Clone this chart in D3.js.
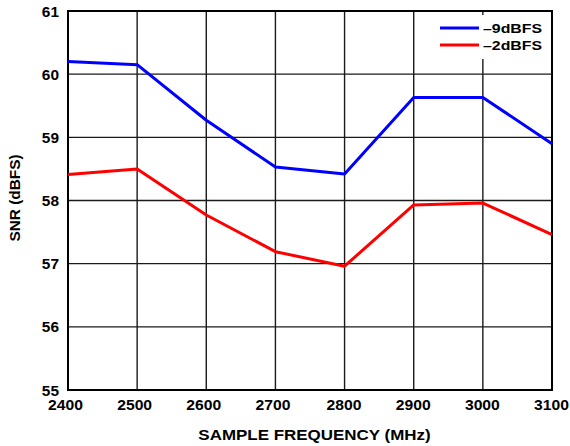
<!DOCTYPE html>
<html>
<head>
<meta charset="utf-8">
<script src="https://cdn.jsdelivr.net/npm/d3@7"></script>
<style>
  body { margin: 0; background: #fff; }
  text { font-family: "Liberation Sans", Arial, sans-serif; font-weight: bold; fill: #000; }
</style>
</head>
<body>
<svg id="chart" width="570" height="446"></svg>
<script>
var freqs = [2400, 2500, 2600, 2700, 2800, 2900, 3000, 3100];
var snrMinus9 = [60.2, 60.15, 59.27, 58.53, 58.42, 59.63, 59.63, 58.9];
var snrMinus2 = [58.41, 58.5, 57.77, 57.19, 56.96, 57.93, 57.96, 57.46];
var xTicks = [2400, 2500, 2600, 2700, 2800, 2900, 3000, 3100];
var yTicks = [55, 56, 57, 58, 59, 60, 61];
var seriesNames = ["\u20139dBFS", "\u20132dBFS"];
var seriesColors = ["#0000ff", "#ff0000"];

var m = {left: 68, right: 552, top: 11, bottom: 390};
var svg = d3.select("#chart");

var x = d3.scaleLinear().domain([2400, 3100]).range([m.left, m.right]);
var y = d3.scaleLinear().domain([55, 61]).range([m.bottom, m.top]);

// the original type is a bit wider than arial, so stretch it
function stretch(sel, k) {
  sel.each(function() {
    var w = this.getComputedTextLength();
    d3.select(this).attr("textLength", w * k).attr("lengthAdjust", "spacingAndGlyphs");
  });
}

// grid
var grid = svg.append("g");
grid.selectAll("line.v").data(xTicks).enter().append("line")
  .attr("x1", d => x(d)).attr("x2", d => x(d))
  .attr("y1", m.top).attr("y2", m.bottom)
  .attr("stroke", "#1a1a1a").attr("stroke-width", 1.4);
grid.selectAll("line.h").data(yTicks).enter().append("line")
  .attr("y1", d => y(d)).attr("y2", d => y(d))
  .attr("x1", m.left).attr("x2", m.right)
  .attr("stroke", "#1a1a1a").attr("stroke-width", 1.4);

// legend box hides grid behind it
svg.append("rect").attr("x", 436).attr("y", 15).attr("width", 114).attr("height", 44).attr("fill", "#fff");

// frame
svg.append("rect").attr("x", m.left).attr("y", m.top)
  .attr("width", m.right - m.left).attr("height", m.bottom - m.top)
  .attr("fill", "none").attr("stroke", "#000").attr("stroke-width", 2);

// tick labels
svg.selectAll("text.yt").data(yTicks).enter().append("text")
  .attr("x", 59).attr("y", d => y(d) + 5.5)
  .attr("text-anchor", "end").attr("font-size", 14).text(d => d)
  .call(stretch, 1.1);
svg.selectAll("text.xt").data(xTicks).enter().append("text")
  .attr("x", (d, i) => x(d) - (i < 4 ? 2.5 : 0.5)).attr("y", 410)
  .attr("text-anchor", "middle").attr("font-size", 14).text(d => d)
  .call(stretch, 1.12);

// axis titles
svg.append("text").attr("x", 314.5).attr("y", 440).attr("text-anchor", "middle")
  .attr("font-size", 15).text("SAMPLE FREQUENCY (MHz)")
  .call(stretch, 1.13);
svg.append("text").attr("transform", "translate(20,198) rotate(-90)")
  .attr("text-anchor", "middle").attr("font-size", 14).text("SNR (dBFS)")
  .call(stretch, 1.1);

// lines
var line = d3.line().x((d, i) => x(freqs[i])).y(d => y(d));
[snrMinus9, snrMinus2].forEach(function(s, k) {
  svg.append("path").datum(s).attr("d", line)
    .attr("fill", "none").attr("stroke", seriesColors[k])
    .attr("stroke-width", 3).attr("stroke-linejoin", "round");
});

// legend
seriesNames.forEach(function(n, k) {
  var ly = 28 + k * 17;
  svg.append("line").attr("x1", 440).attr("x2", 479).attr("y1", ly).attr("y2", ly)
    .attr("stroke", seriesColors[k]).attr("stroke-width", 3);
  svg.append("text").attr("x", 483).attr("y", ly + 5).attr("font-size", 13.5).text(n)
    .attr("textLength", 59).attr("lengthAdjust", "spacingAndGlyphs");
});
</script>
</body>
</html>
